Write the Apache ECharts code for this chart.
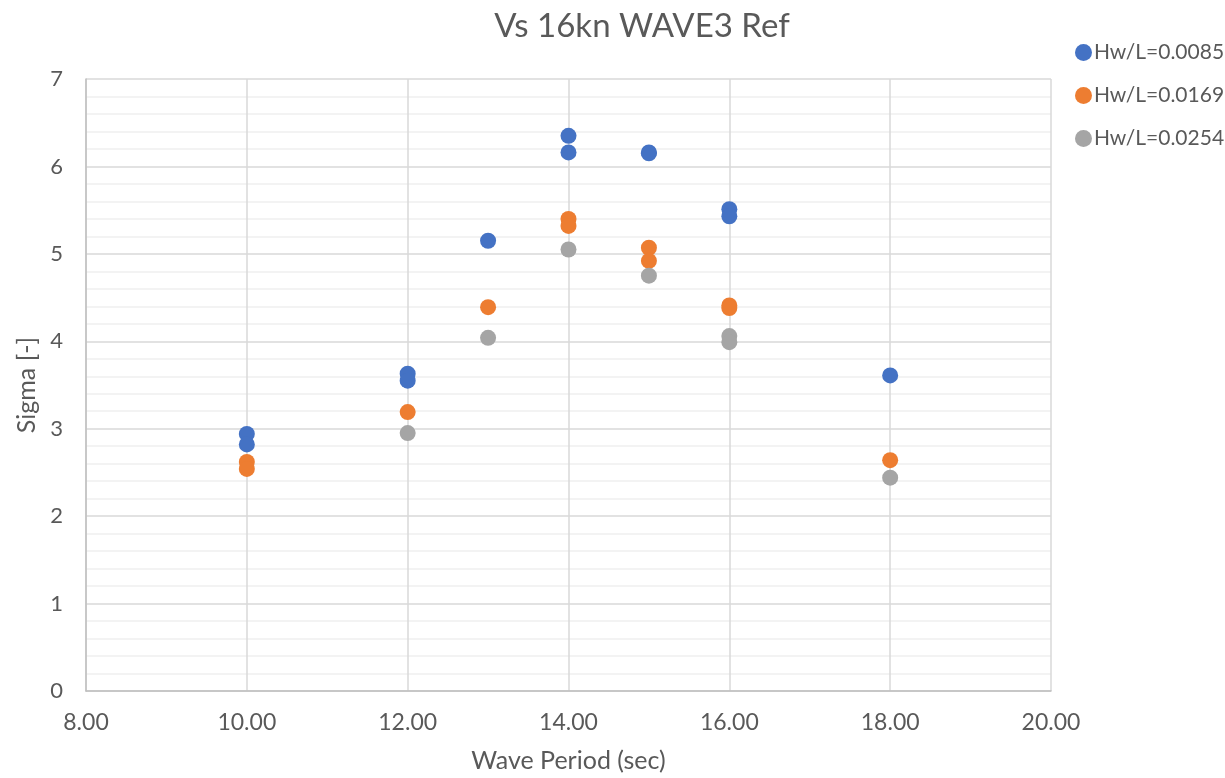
<!DOCTYPE html>
<html>
<head>
<meta charset="utf-8">
<script src="https://cdn.jsdelivr.net/npm/echarts@6/dist/echarts.min.js"></script>
<style>
html,body{margin:0;padding:0;background:#fff;}
#chart{width:1225px;height:778px;}
</style>
</head>
<body>
<div id="chart"></div>
<script>
const seriesNames = ['Hw/L=0.0085', 'Hw/L=0.0169', 'Hw/L=0.0254'];
const colors = ['#4472C4', '#ED7D31', '#A5A5A5'];

const periods1 = [10, 10, 12, 12, 13, 14, 14, 15, 15, 16, 16, 18];
const sigma1   = [2.94, 2.82, 3.63, 3.55, 5.15, 6.35, 6.16, 6.16, 6.15, 5.51, 5.43, 3.61];

const periods2 = [10, 10, 12, 13, 14, 14, 15, 15, 16, 16, 18];
const sigma2   = [2.62, 2.54, 3.19, 4.39, 5.40, 5.32, 5.07, 4.92, 4.41, 4.38, 2.64];

const periods3 = [12, 13, 14, 15, 16, 16, 18];
const sigma3   = [2.95, 4.04, 5.05, 4.75, 4.06, 3.99, 2.44];

const xTicks = [8, 10, 12, 14, 16, 18, 20];
const yTicks = [0, 1, 2, 3, 4, 5, 6, 7];

const FONT = 'Lato';
const TXT = '#595959';

function pairs(xs, ys) { return xs.map((x, i) => [x, ys[i]]); }

const chart = echarts.init(document.getElementById('chart'));
chart.setOption({
  animation: false,
  backgroundColor: '#fff',
  textStyle: { fontFamily: FONT },
  title: {
    text: 'Vs 16kn WAVE3 Ref',
    left: 637, top: 5, textAlign: 'center',
    textStyle: { fontFamily: FONT, fontSize: 33, fontWeight: 'normal', color: TXT }
  },
  legend: {
    orient: 'vertical',
    left: 1070, top: 37,
    itemGap: 22,
    itemWidth: 17, itemHeight: 17,
    icon: 'circle',
    textStyle: { fontFamily: FONT, fontSize: 21, color: TXT, padding: [0, 0, 0, -3] },
    data: seriesNames
  },
  grid: { left: 86, right: 174, top: 79, bottom: 85, containLabel: false },
  xAxis: {
    type: 'value',
    min: xTicks[0], max: xTicks[xTicks.length - 1], interval: 2,
    name: 'Wave Period (sec)', nameLocation: 'middle', nameGap: 57,
    nameTextStyle: { fontFamily: FONT, fontSize: 25, color: TXT },
    axisLine: { show: true, onZero: false, lineStyle: { color: '#bfbfbf', width: 1.5 } },
    axisTick: { show: false },
    axisLabel: { fontFamily: FONT, fontSize: 23, color: TXT, margin: 20, formatter: v => v.toFixed(2) },
    splitLine: { show: true, lineStyle: { color: '#d9d9d9', width: 1.5 } }
  },
  yAxis: {
    type: 'value',
    min: yTicks[0], max: yTicks[yTicks.length - 1], interval: 1,
    name: 'Sigma [-]', nameLocation: 'middle', nameGap: 46,
    nameTextStyle: { fontFamily: FONT, fontSize: 25, color: TXT },
    axisLine: { show: true, onZero: false, lineStyle: { color: '#bfbfbf', width: 1.5 } },
    axisTick: { show: false },
    axisLabel: { fontFamily: FONT, fontSize: 22, color: TXT, margin: 23 },
    splitLine: { show: true, lineStyle: { color: '#d9d9d9', width: 1.5 } },
    minorTick: { show: false, splitNumber: 5 },
    minorSplitLine: { show: true, lineStyle: { color: '#efefef', width: 1.5 } }
  },
  series: [
    { name: seriesNames[0], type: 'scatter', symbolSize: 16, itemStyle: { color: colors[0], opacity: 1 }, data: pairs(periods1, sigma1) },
    { name: seriesNames[1], type: 'scatter', symbolSize: 16, itemStyle: { color: colors[1], opacity: 1 }, data: pairs(periods2, sigma2) },
    { name: seriesNames[2], type: 'scatter', symbolSize: 16, itemStyle: { color: colors[2], opacity: 1 }, data: pairs(periods3, sigma3) }
  ]
});
</script>
</body>
</html>
